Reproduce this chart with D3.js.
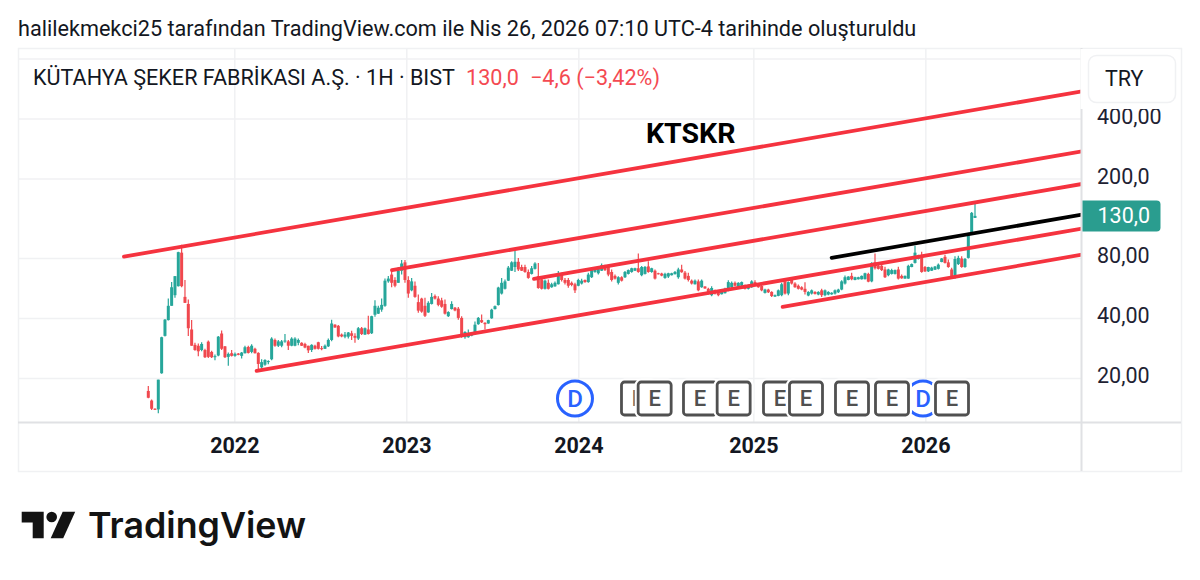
<!DOCTYPE html>
<html>
<head>
<meta charset="utf-8">
<script src="https://cdn.jsdelivr.net/npm/d3@7"></script>
<style>
  html, body { margin: 0; padding: 0; background: #fff; }
  svg { display: block; font-family: Roboto, sans-serif; }
</style>
</head>
<body>
<div id="chart"></div>
<script>
// weekly KTSKR candles, one value per week from Jul 2021
var opens = [
  17.2,15.4,14,13.9,21.1,32.5,39,46,52,57.7,
  85,51,47,35,29.3,29,27.6,27.6,30.4,27,
  25.5,25.9,33.4,28.8,25.5,26.6,25.8,26.5,25.8,26.6,
  28.6,27,28,26.7,22.6,23.3,24,24.8,31,29,
  29,30.5,30.5,29,29,30,30,29.6,29,27.6,
  29,30.2,28.2,28,28.8,31,37,36.5,33,32.2,
  32.2,33.5,32.5,31.5,35.5,33,35,33.5,41.5,42,
  44,46,61,66,62,60,69,76,62,55,
  58,48,50,46,42.6,47,51.5,50,49,47,
  40.8,44.3,45,44.5,40,32,32,32.6,33.2,37.2,
  39,37.8,37.5,39.8,44.3,46.4,53,56,61.5,69,
  72,76.5,72,72,68,66.5,70.5,64.8,62.5,56,
  60,57,57.6,59,66,62,62,60,59,58,
  59.5,62,60.5,64,68,67,69,73.5,73,68,
  65,60,64,64,66.5,68,69,71,65.5,66.5,
  72.5,68,69,67,66.8,63.5,64.5,65.5,66.3,64,
  70,67.5,65,61.5,59,61,57,57.5,56,52,
  55,54,52.6,53.2,54.6,57,60,57.6,58,58.5,
  56,57,60.5,58.5,58,53.4,55.5,54,51.2,51.6,
  52,61,53,62,59.5,58,57,56,51.8,53,
  54,52.4,55,52,52.4,52.5,53,53.8,55.5,59.5,
  62,65,62,62.5,62.5,62.6,66.5,61,76,73,
  73,70,65.5,66.5,66.5,70,65,63,63,72,
  75.5,79,82.5,72,68.5,69,69.8,70.5,76.3,81,
  76,70,64,74.5,79.5,72,80,107,127
];
var highs = [
  18.2,15.6,14.1,19.6,32.2,39.5,50,60.5,65,86,
  93,62,49.5,39,30,29.8,30.2,28,30.8,27.4,
  26.2,32.5,34.6,28.9,26.8,27.6,26.8,26.7,27,29,
  29,29.5,28.3,26.9,24.8,24.8,24.5,32,31.5,31,
  31,33.2,31,32,32,31.5,30.2,30,29,29.5,
  29.3,30.4,28.9,29.4,31.5,39.2,37.2,36.8,33.4,34,
  34,34.5,33.5,36,36,35.8,41,41,49,46,
  50,63,65,68,64,72,78,78,64.8,63.5,
  61,52.4,50.5,50.5,48.5,53.4,52.4,51.4,50.5,49.5,
  43.2,48.5,45.4,45.4,40.8,34.3,35,33.7,38.4,40.4,
  41.6,38,39.2,44.5,46.2,57.3,63.5,62.3,72.8,77,
  88.8,80,74,74,70,72.8,76,75.5,63.5,62.3,
  62.3,60,61,68.7,67.4,63.5,63.5,61,60,62.8,
  62.8,62.3,67.4,70.5,71.4,72,75,74,74,70,
  66,64.8,64.8,68.7,70,71.4,71.4,84.2,72.8,72.8,
  77,71.4,70,67.4,67.4,67.4,67.4,67.4,68.7,71.4,
  74,68.7,67.4,62.3,62.3,62.3,62.3,57.7,56.6,57.7,
  55.5,54.4,54.4,56.6,61.8,61,61,60.4,61,58.8,
  58.8,61.8,61.8,58.8,58.8,56,56,54.4,52.4,55.5,
  60,62.3,61,63.5,60.4,58.8,57.7,60.4,54.4,55.5,
  54.4,54.4,56,55.5,54.4,53.8,55.5,56,61.8,65.3,
  64.8,67.4,64.3,64.3,65.3,67.4,67.4,76,84.2,74,
  74,72.2,70.5,70.5,70,72.2,66,65.3,74,75,
  92,83,86,72.8,72.2,72.2,72.8,75,80,83,
  78.5,71.4,81.6,82,81.6,80,107,136,151
];
var lows = [
  15.8,13.8,13.8,13.3,21,32.3,38.8,46,50.5,57.5,
  57,47.5,32.5,29,27.4,25.7,27.2,25.2,25.2,25.2,
  24.5,25.7,27.6,25.2,23,25.6,25.5,26,25,26.5,
  26.5,26.6,26.5,21.7,22.2,23,23.4,24.5,28.7,28.6,
  28.5,30,27.6,28.8,28.8,29.2,28.9,28.2,26.7,27,
  27.8,27.8,27.5,27.9,28.6,30.5,35.7,32,32,31.6,
  31.5,31,30,31,32.8,32.8,33,33.2,40.5,41.8,
  43,45.5,60,57,57,60,66,60,50.5,54.4,
  50.5,42.4,42.4,40.4,42.4,46.7,49.5,45.8,45,41.6,
  40.4,44.1,43.2,39.2,31.8,31.4,31.8,32.4,33,37,
  37.7,35,37.4,39.6,44.1,46.2,52.4,55.5,61.2,68.7,
  67.9,68.7,68.7,67.4,62.8,66,70,56,55.5,55.5,
  55.5,56.6,57.3,58.8,61,58.8,56.6,57.7,53.4,57.7,
  58.8,60,60,63.5,67.4,66,68.7,68.7,64.8,61,
  62.3,58.8,61,63.5,66,67.4,68.7,67.4,64.8,66,
  67.4,67.4,62.3,66,64.8,62.8,63.5,65.3,66,62.8,
  67.4,62.3,61,58.8,58.8,54.4,56.6,56,52.4,51.4,
  52.4,51.4,52.4,53,54.4,56.6,57.7,57.3,57.3,55.5,
  55.5,56.6,57.7,56.6,54.4,53,53.4,51,51,51.4,
  51.4,52.4,52,58.8,56.6,55.5,55,52.4,51.4,52.4,
  52.4,52,51,51.4,52,52.2,52.4,53.4,55,58.8,
  61.8,61.8,61.8,62.3,62.3,62.3,60.4,60.4,70,70,
  68.7,63.5,64.8,66,66,62.3,62.8,62.8,62.8,71.8,
  75,78.5,67.4,68,68,68.7,69.5,70,76,75,
  71.4,63.5,62.8,73.7,71.4,71.4,79.5,106,127
];
var closes = [
  15.9,14,13.9,19.6,32,39.2,46,57,64.8,85.5,
  57.7,47.6,35.5,29,27.6,27.2,29.6,25.4,25.5,25.4,
  25.7,32.2,28,25.4,26.4,25.8,26.4,26.1,26.8,28.5,
  26.7,29,26.6,23.5,24,24.6,24.3,31.5,29,30.5,
  30.5,30.8,29,31.5,31.5,31,29,28.4,27.5,29.3,
  28,28,28,29,31,37.5,35.8,32.3,32.3,33,
  33.8,32.5,31.8,35.5,33.2,35.5,33.2,40.8,46,45,
  46.5,61.5,63,60,58,69,75,62,53,61,
  51,43.5,43,41,47.6,51,50,46.5,45.5,42,
  42.8,47,43.6,40,32.2,34,33.5,33.4,37,40,
  38,37.2,39,44,45.8,56.8,60,61,71.5,76,
  76.5,70,69,68,63.5,71,75,56.5,56,61.5,
  56,59,60,67,62,60,58,58.5,55,62,
  61.5,60.5,66,69.5,70.5,71,73.5,69.5,66,62,
  63,64,61.5,68,69.5,71,71,68,72,72,
  68,71,63,66.2,65.2,66.5,67,67,68,70,
  67.8,63,62,59.5,61.5,55,61.5,56.2,53,56.5,
  53,52,54,56,60.5,60,58,60,60.5,56,
  58.5,61,58,57,55,55.5,53.8,51.5,52,55,
  59,53,60.5,59.5,57,56,55.5,54,54,55,
  52.8,54,52,55,54,53.5,55,55.5,61,64,
  64.5,62.5,64,64,65,67,60.8,75.5,71,70.5,
  69.5,64,70,69.5,69.5,63,63.2,65,73,74.5,
  85,82,68,68.5,72,71.5,72.4,74,79.5,75.5,
  72,64,79,80,72,79,106,134.6,130
];

// x is a bar index, like the original chart's time axis
var yearBars = [25.8, 77.4, 129, 181.5, 233.1];
var yearLabels = ["2022", "2023", "2024", "2025", "2026"];
var priceTicks = [20, 40, 80, 200, 400];
var priceLabels = ["20,00", "40,00", "80,00", "200,0", "400,00"];
var gridPrices = [20, 40, 80, 200, 400, 800];

var dividendBars = [128, 232.4];
var earningsBars = [146.9, 151.9, 165.5, 175.6, 189.5, 197.3, 211.1, 223.1, 241.1];

// drawn trend lines: bar and price at each end
var channelLines = [
  [-7.3, 81.2, 280.1, 548],
  [73.1, 69.4, 280.1, 274],
  [115.7, 62.8, 280.1, 188],
  [32.5, 21.7, 280.1, 112.2],
  [190.3, 45.4, 280.1, 83.1]
];
var blackLine = [205, 80.1, 280.1, 132];

var svgWidth = 1200;
var svgHeight = 580;

var chartMargin = { top: 48, right: 1181, bottom: 471, left: 18 };
var axisX = 1081.5;
var axisY = 422.5;

var upColor = "#26a69a";
var downColor = "#f0484e";
var lineColor = "#f5333f";
var gridColor = "#f0f1f3";
var axisColor = "#e0e1e4";
var textColor = "#131722";

var svg = d3.select("#chart")
  .append("svg")
  .attr("width", svgWidth)
  .attr("height", svgHeight);

svg.append("rect")
  .attr("width", svgWidth)
  .attr("height", svgHeight)
  .attr("fill", "#fff");

var xScale = d3.scaleLinear()
  .domain([0, closes.length - 1])
  .range([148.3, 975]);

var yScale = d3.scaleLog()
  .domain([20, 400])
  .range([377.9, 118.6]);

// title above the chart
svg.append("text")
  .attr("x", 18)
  .attr("y", 36)
  .attr("font-size", 21.65)
  .attr("fill", textColor)
  .text("halilekmekci25 tarafından TradingView.com ile Nis 26, 2026 07:10 UTC-4 tarihinde oluşturuldu");

// frame
svg.append("rect")
  .attr("x", chartMargin.left + 0.5)
  .attr("y", chartMargin.top + 0.5)
  .attr("width", chartMargin.right - chartMargin.left)
  .attr("height", chartMargin.bottom - chartMargin.top)
  .attr("fill", "none")
  .attr("stroke", gridColor)
  .attr("stroke-width", 1.5);

// grid lines
var xGrid = d3.axisBottom(xScale)
  .tickValues(yearBars)
  .tickSize(axisY - chartMargin.top)
  .tickFormat("");
svg.append("g")
  .attr("transform", `translate(0, ${chartMargin.top})`)
  .call(xGrid)
  .call(g => g.select(".domain").remove())
  .call(g => g.selectAll("line").attr("stroke", gridColor).attr("stroke-width", 1.5));

var yGrid = d3.axisLeft(yScale)
  .tickValues(gridPrices)
  .tickSize(axisX - chartMargin.left)
  .tickFormat("");
svg.append("g")
  .attr("transform", `translate(${axisX}, 0)`)
  .call(yGrid)
  .call(g => g.select(".domain").remove())
  .call(g => g.selectAll("line").attr("stroke", gridColor).attr("stroke-width", 1.5));

// legend
var legend = svg.append("text")
  .attr("x", 33)
  .attr("y", 85)
  .attr("font-size", 21.6);
legend.append("tspan")
  .attr("fill", textColor)
  .text("KÜTAHYA ŞEKER FABRİKASI A.Ş. · 1H · BIST");
legend.append("tspan")
  .attr("x", 466)
  .attr("fill", "#f44a52")
  .text("130,0");
legend.append("tspan")
  .attr("x", 530)
  .attr("fill", "#f44a52")
  .text("−4,6 (−3,42%)");

svg.append("text")
  .attr("x", 646)
  .attr("y", 143)
  .attr("font-size", 28.5)
  .attr("font-weight", 700)
  .attr("fill", "#000")
  .text("KTSKR");

// dividend markers go under the earnings boxes
var dividends = svg.append("g")
  .selectAll("g")
  .data(dividendBars)
  .enter()
  .append("g")
  .attr("transform", d => `translate(${xScale(d)}, 398.5)`);
dividends.append("circle")
  .attr("r", 17.5)
  .attr("fill", "#fff")
  .attr("stroke", "#2962ff")
  .attr("stroke-width", 3);
dividends.append("text")
  .attr("text-anchor", "middle")
  .attr("dy", "0.36em")
  .attr("font-size", 24)
  .attr("font-weight", 500)
  .attr("fill", "#2962ff")
  .text("D");

var earnings = svg.append("g")
  .selectAll("g")
  .data(earningsBars)
  .enter()
  .append("g")
  .attr("transform", d => `translate(${xScale(d)}, 398.5)`);
earnings.append("rect")
  .attr("x", -16.5)
  .attr("y", -16.5)
  .attr("width", 33)
  .attr("height", 33)
  .attr("rx", 3)
  .attr("fill", "#fff")
  .attr("stroke", "#fff")
  .attr("stroke-width", 7);
earnings.append("rect")
  .attr("x", -16.5)
  .attr("y", -16.5)
  .attr("width", 33)
  .attr("height", 33)
  .attr("rx", 3)
  .attr("fill", "#fff")
  .attr("stroke", "#505050")
  .attr("stroke-width", 2.8);
earnings.append("text")
  .attr("text-anchor", "middle")
  .attr("dy", "0.36em")
  .attr("font-size", 22)
  .attr("font-weight", 500)
  .attr("fill", "#505050")
  .text("E");

// candles
var candles = svg.append("g")
  .selectAll("g")
  .data(d3.range(closes.length))
  .enter()
  .append("g")
  .attr("fill", i => closes[i] >= opens[i] ? upColor : downColor)
  .attr("stroke", i => closes[i] >= opens[i] ? upColor : downColor);

candles.append("line")
  .attr("x1", i => xScale(i))
  .attr("x2", i => xScale(i))
  .attr("y1", i => yScale(highs[i]))
  .attr("y2", i => yScale(lows[i]))
  .attr("stroke-width", 1.2);

candles.append("rect")
  .attr("x", i => xScale(i) - 1.5)
  .attr("width", 3)
  .attr("y", i => yScale(Math.max(opens[i], closes[i])))
  .attr("height", i => Math.max(1, Math.abs(yScale(opens[i]) - yScale(closes[i]))))
  .attr("stroke", "none");

// trend lines
function drawTrend(points, color) {
  svg.append("line")
    .attr("x1", xScale(points[0]))
    .attr("y1", yScale(points[1]))
    .attr("x2", xScale(points[2]))
    .attr("y2", yScale(points[3]))
    .attr("stroke", color)
    .attr("stroke-width", 3.8)
    .attr("stroke-linecap", "round")
    .attr("clip-path", "url(#plotClip)");
}

svg.append("clipPath")
  .attr("id", "plotClip")
  .attr("clipPathUnits", "userSpaceOnUse")
  .append("rect")
  .attr("x", 0)
  .attr("y", 0)
  .attr("width", axisX)
  .attr("height", axisY);

channelLines.forEach(function (points) {
  drawTrend(points, lineColor);
});
drawTrend(blackLine, "#000");

// axes
svg.append("line")
  .attr("x1", chartMargin.left)
  .attr("x2", chartMargin.right)
  .attr("y1", axisY)
  .attr("y2", axisY)
  .attr("stroke", axisColor)
  .attr("stroke-width", 2);

svg.append("line")
  .attr("x1", axisX)
  .attr("x2", axisX)
  .attr("y1", chartMargin.top)
  .attr("y2", chartMargin.bottom)
  .attr("stroke", axisColor)
  .attr("stroke-width", 2);

var bottomAxis = d3.axisBottom(xScale)
  .tickValues(yearBars)
  .tickSize(0)
  .tickPadding(0)
  .tickFormat((d, i) => yearLabels[i]);
svg.append("g")
  .attr("transform", "translate(0, 438)")
  .call(bottomAxis)
  .call(g => g.select(".domain").remove())
  .call(g => g.selectAll("text")
    .attr("font-family", "Roboto, sans-serif")
    .attr("font-size", 21.5)
    .attr("font-weight", 700)
    .attr("fill", textColor));

var rightAxis = d3.axisRight(yScale)
  .tickValues(priceTicks)
  .tickSize(0)
  .tickPadding(15.5)
  .tickFormat((d, i) => priceLabels[i]);
svg.append("g")
  .attr("transform", `translate(${axisX}, -2)`)
  .call(rightAxis)
  .call(g => g.select(".domain").remove())
  .call(g => g.selectAll("text")
    .attr("font-family", "Roboto, sans-serif")
    .attr("font-size", 21.5)
    .attr("fill", "#1e2233"));

// currency button sits over the top of the price axis and clips the 400,00 label
svg.append("rect")
  .attr("x", axisX - 1)
  .attr("y", chartMargin.top + 1)
  .attr("width", 98)
  .attr("height", 60)
  .attr("fill", "#fff");
svg.append("rect")
  .attr("x", 1088.5)
  .attr("y", 55.5)
  .attr("width", 87)
  .attr("height", 47)
  .attr("rx", 8)
  .attr("fill", "#fff")
  .attr("stroke", gridColor)
  .attr("stroke-width", 1.5);
svg.append("text")
  .attr("x", 1105)
  .attr("y", 86)
  .attr("font-size", 21.5)
  .attr("fill", textColor)
  .text("TRY");

// last price tag
var lastPrice = closes[closes.length - 1];
svg.append("path")
  .attr("d", `M${axisX + 1},${yScale(lastPrice) - 15.5}h74a4,4 0 0 1 4,4v23a4,4 0 0 1 -4,4h-74z`)
  .attr("fill", "#2a9d8f");
svg.append("text")
  .attr("x", 1097.5)
  .attr("y", yScale(lastPrice) + 7)
  .attr("font-size", 21.5)
  .attr("fill", "#fff")
  .text("130,0");

// TradingView logo
var logo = svg.append("g")
  .attr("transform", "translate(21.7, 511.7)")
  .attr("fill", "#131313");
logo.append("path").attr("d", "M0,0H22V26.5H11V10.7H0Z");
logo.append("circle").attr("cx", 30).attr("cy", 5.3).attr("r", 5.3);
logo.append("path").attr("d", "M41,0H53.5L41.5,26.5H29Z");

svg.append("text")
  .attr("x", 88)
  .attr("y", 538)
  .attr("font-family", "Inter, Roboto, sans-serif")
  .attr("font-size", 36)
  .attr("font-weight", 600)
  .attr("fill", "#131313")
  .attr("textLength", 218)
  .attr("lengthAdjust", "spacingAndGlyphs")
  .text("TradingView");
</script>
</body>
</html>
